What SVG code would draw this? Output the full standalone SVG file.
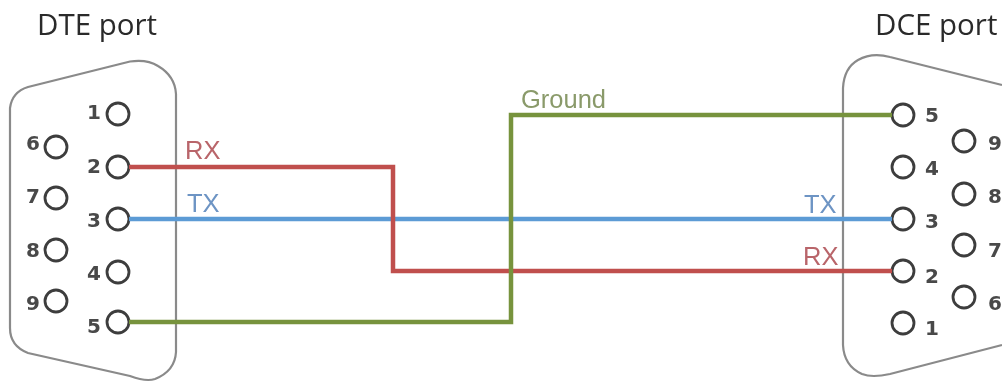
<svg xmlns="http://www.w3.org/2000/svg" width="1002" height="383" viewBox="0 0 1002 383">
<style>
.shell{fill:none;stroke:#8a8a8a;stroke-width:2.2}
.pin{fill:none;stroke:#3d3d3d;stroke-width:2.8}
.num{font-family:"DejaVu Sans",sans-serif;font-size:20px;font-weight:bold;fill:#4a4a4a;text-anchor:middle}
.title{font-family:"Open Sans",sans-serif;font-size:29.500px;fill:#2a2a2a}
.lbl{font-family:"Liberation Sans",sans-serif;font-size:25.500px}
.wire{fill:none;stroke-width:4.500;stroke-linejoin:miter}
</style>
<defs><filter id="soft" x="-2%" y="-2%" width="104%" height="104%"><feGaussianBlur stdDeviation="0.5"/></filter></defs>
<rect width="1002" height="383" fill="#fff"/>
<g filter="url(#soft)">
<g id="dte-port">
<path class="shell" d="M130 61.500 Q147 59 158 66 Q175 76 176 94 V352 Q175 371 155 379 Q146 382 130 376 L28 353 Q10 346 10 328 V108 Q12 92 28 87 Z"/>
<text class="title" x="37" y="35">DTE port</text>
<circle class="pin" cx="118" cy="114" r="11"/><text class="num" x="94" y="119">1</text>
<circle class="pin" cx="118" cy="167" r="11"/><text class="num" x="94" y="173">2</text>
<circle class="pin" cx="118" cy="219" r="11"/><text class="num" x="94" y="227">3</text>
<circle class="pin" cx="118" cy="272" r="11"/><text class="num" x="94" y="280">4</text>
<circle class="pin" cx="118" cy="322" r="11"/><text class="num" x="94" y="333">5</text>
<circle class="pin" cx="56" cy="147" r="11"/><text class="num" x="33" y="150">6</text>
<circle class="pin" cx="56" cy="198" r="11"/><text class="num" x="33" y="203">7</text>
<circle class="pin" cx="56" cy="250" r="11"/><text class="num" x="33" y="257">8</text>
<circle class="pin" cx="56" cy="301" r="11"/><text class="num" x="33" y="310">9</text>
</g>
<g id="dce-port">
<path class="shell" d="M1002 85 L890 57 Q872 52 858 60 Q844 68 843 88 V345 Q844 366 862 374 Q872 378 890 374 L1002 345"/>
<text class="title" x="875" y="35">DCE port</text>
<circle class="pin" cx="903" cy="115" r="11"/><text class="num" x="932" y="122">5</text>
<circle class="pin" cx="903" cy="167" r="11"/><text class="num" x="932" y="175">4</text>
<circle class="pin" cx="903" cy="219" r="11"/><text class="num" x="932" y="228">3</text>
<circle class="pin" cx="903" cy="271" r="11"/><text class="num" x="932" y="283">2</text>
<circle class="pin" cx="903" cy="323" r="11"/><text class="num" x="932" y="335">1</text>
<circle class="pin" cx="964" cy="141" r="11"/><text class="num" x="995" y="150">9</text>
<circle class="pin" cx="964" cy="194" r="11"/><text class="num" x="995" y="203">8</text>
<circle class="pin" cx="964" cy="245" r="11"/><text class="num" x="995" y="257">7</text>
<circle class="pin" cx="964" cy="297" r="11"/><text class="num" x="995" y="310">6</text>
</g>
<g id="connectors">
<path class="wire" stroke="#5b9bd5" d="M129 219 H892"/>
<path class="wire" stroke="#c0504d" d="M129 167 H393 V271 H892"/>
<path class="wire" stroke="#77933c" d="M129 322 H511 V115 H892"/>
</g>
<g id="labels">
<text class="lbl" x="185" y="159" fill="#b9656a">RX</text>
<text class="lbl" x="187" y="212" fill="#6d94c4">TX</text>
<text class="lbl" x="804" y="213" fill="#6d94c4">TX</text>
<text class="lbl" x="803" y="265" fill="#b9656a">RX</text>
<text class="lbl" x="521" y="108" fill="#8a9a6a">Ground</text>
</g>
</g>
</svg>
